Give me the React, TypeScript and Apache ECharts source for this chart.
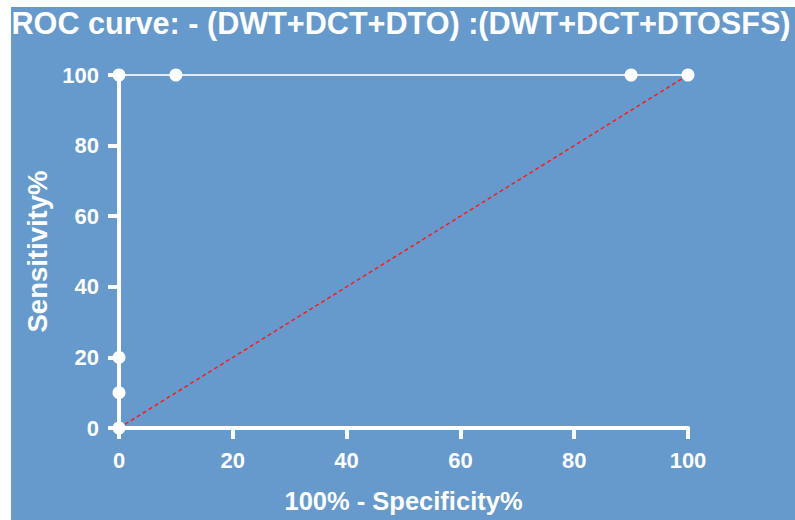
import React, { useEffect, useRef } from "react";
import * as echarts from "echarts";

const rocX = [0, 0, 0, 0, 10, 90, 100];
const rocY = [0, 10, 20, 100, 100, 100, 100];
const refX = [0, 100];
const refY = [0, 100];
const titleText = "ROC curve: - (DWT+DCT+DTO) :(DWT+DCT+DTOSFS)";
const xName = "100% - Specificity%";
const yName = "Sensitivity%";

export default function App() {
  const ref = useRef<HTMLDivElement>(null);
  useEffect(() => {
    document.body.style.margin = "0";
    const chart = echarts.init(ref.current!, null, { renderer: "svg" });
    const font = "'Liberation Sans', Arial, sans-serif";
    const axisCommon = {
      type: "value" as const,
      min: 0,
      max: 100,
      interval: 20,
      splitLine: { show: false },
      axisLine: { show: true, lineStyle: { color: "#fff", width: 4 } },
      axisTick: { show: true, inside: false, length: 11, lineStyle: { color: "#fff", width: 4 } },
      axisLabel: { color: "#fff", fontSize: 22, fontWeight: "bold" as const, fontFamily: font },
    };
    chart.setOption({
      animation: false,
      backgroundColor: "transparent",
      textStyle: { fontFamily: font },
      grid: { left: 119, right: 107, top: 75, bottom: 92 },
      xAxis: {
        ...axisCommon,
        axisLabel: { ...axisCommon.axisLabel, margin: 21 },
        name: xName,
        nameLocation: "middle",
        nameGap: 60,
        nameTextStyle: { color: "#fff", fontSize: 25.5, fontWeight: "bold", fontFamily: font },
      },
      yAxis: {
        ...axisCommon,
        axisLabel: { ...axisCommon.axisLabel, margin: 20 },
        name: yName,
        nameLocation: "middle",
        nameGap: 66,
        nameTextStyle: { color: "#fff", fontSize: 27.5, fontWeight: "bold", fontFamily: font },
      },
      graphic: [
        {
          type: "text",
          x: 401,
          y: 23,
          style: {
            text: titleText,
            fill: "#fff",
            font: `bold 30.6px ${font}`,
            textAlign: "center",
            textVerticalAlign: "middle",
          },
        },
      ],
      series: [
        {
          type: "line",
          data: refX.map((x, i) => [x, refY[i]]),
          symbol: "none",
          clip: false,
          lineStyle: { color: "#ff1a1a", width: 1.5, type: [4, 3] },
          z: 2,
        },
        {
          type: "line",
          data: rocX.map((x, i) => [x, rocY[i]]),
          symbol: "circle",
          symbolSize: 13,
          clip: false,
          itemStyle: { color: "#fff" },
          lineStyle: { color: "rgba(255,255,255,0.8)", width: 2 },
          z: 3,
        },
      ],
    });
    return () => chart.dispose();
  }, []);
  return (
    <div
      ref={ref}
      style={{
        width: 795,
        height: 520,
        background:
          "linear-gradient(#6699CC,#6699CC) 11px 7px / 784px 513px no-repeat, #ffffff",
      }}
    />
  );
}
